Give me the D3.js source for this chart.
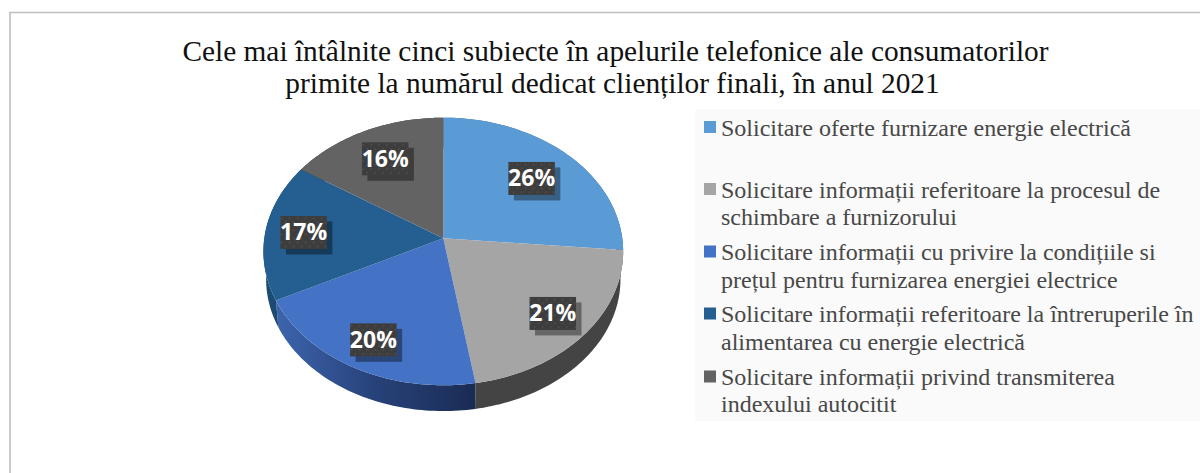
<!DOCTYPE html>
<html>
<head>
    <meta charset="utf-8" />
    <title>Subiecte apeluri telefonice 2021</title>
    <script src="https://d3js.org/d3.v7.min.js"></script>
    <style>
        html, body { margin: 0; padding: 0; background: #fff; overflow: hidden; }
        svg { display: block; }
        text { white-space: pre; }
        .title { font: 29.35px "Liberation Serif", serif; fill: #111; text-anchor: middle; }
        .legend-text { font: 24px "Liberation Serif", serif; fill: #484848; }
        .pct { font: 700 23px "Open Sans", sans-serif; fill: #fff; text-anchor: middle; }
    </style>
</head>
<body>
    <div id="chart"></div>
    <script>
        // Slice shares, labels show them rounded
        const shares = [26.4, 21, 20.2, 16.6, 15.8];
        const topColors = ["#5b9bd5", "#a5a5a5", "#4472c4", "#255e91", "#636363"];
        const wallColors = ["#37608a", "#444444", "url(#blueWall)", "#1b4a73", "#3c3c3c"];
        const titleLines = [
            "Cele mai întâlnite cinci subiecte în apelurile telefonice ale consumatorilor",
            "primite la numărul dedicat clienților finali, în anul 2021"
        ];
        const titleX = [615.5, 612.5];
        const legendLines = [
            ["Solicitare oferte furnizare energie electrică"],
            ["Solicitare informații referitoare la procesul de", "schimbare a furnizorului"],
            ["Solicitare informații cu privire la condițiile si", "prețul pentru furnizarea energiei electrice"],
            ["Solicitare informații referitoare la întreruperile în", "alimentarea cu energie electrică"],
            ["Solicitare informații privind transmiterea", "indexului autocitit"]
        ];
        const legendBaselines = [[135.5], [197.5, 225], [260, 287.5], [322, 350], [385, 412]];
        const labelRadius = [0.70, 0.79, 0.80, 0.785, 0.725];

        const width = 1200;
        const height = 473;

        const svg = d3.select("#chart").append("svg")
            .attr("width", width)
            .attr("height", height);

        const defs = svg.append("defs");

        const wallGrad = defs.append("linearGradient")
            .attr("id", "blueWall")
            .attr("gradientUnits", "userSpaceOnUse")
            .attr("x1", 276).attr("x2", 474).attr("y1", 0).attr("y2", 0);
        wallGrad.append("stop").attr("offset", 0).attr("stop-color", "#3d64ad");
        wallGrad.append("stop").attr("offset", 0.5).attr("stop-color", "#27427a");
        wallGrad.append("stop").attr("offset", 1).attr("stop-color", "#1a2c54");

        // dotted texture of the label boxes
        const dots = defs.append("pattern")
            .attr("id", "boxDots")
            .attr("patternUnits", "userSpaceOnUse")
            .attr("width", 8).attr("height", 8);
        dots.append("rect").attr("width", 8).attr("height", 8).attr("fill", "#3d3d3d");
        dots.append("circle").attr("cx", 2).attr("cy", 2).attr("r", 1.1).attr("fill", "#4c4c4c");
        dots.append("circle").attr("cx", 6).attr("cy", 6).attr("r", 1.1).attr("fill", "#4c4c4c");

        // frame, only top and left are inside the picture
        svg.append("path")
            .attr("d", d3.line()([[10, height], [10, 12.5], [width, 12.5]]))
            .attr("fill", "none")
            .attr("stroke", "#bfbfbf")
            .attr("stroke-width", 1.6);

        svg.selectAll(".title")
            .data(titleLines)
            .enter().append("text")
            .attr("class", "title")
            .attr("x", (d, i) => titleX[i])
            .attr("y", (d, i) => 60.5 + i * 32)
            .text(d => d);

        // legend
        svg.append("rect")
            .attr("x", 695).attr("y", 109)
            .attr("width", 505).attr("height", 312)
            .attr("fill", "#fafafa");

        const legend = svg.selectAll(".legend-item")
            .data(legendLines)
            .enter().append("g")
            .attr("class", "legend-item");

        legend.append("rect")
            .attr("x", 704)
            .attr("y", (d, i) => legendBaselines[i][0] - 14.5)
            .attr("width", 12).attr("height", 12)
            .attr("fill", (d, i) => topColors[i]);

        legend.each(function(lines, i) {
            d3.select(this).selectAll("text")
                .data(lines)
                .enter().append("text")
                .attr("class", "legend-text")
                .attr("x", 721)
                .attr("y", (d, j) => legendBaselines[i][j])
                .text(d => d);
        });

        // perspective pie: circle of unit radius tilted towards the viewer
        const cx = 443.3, cy = 238.3;
        const rX = 179, rY = 132.5, tilt = 0.0984;
        const depth = 26;

        function project(angle, r, drop) {
            const s = Math.sin(angle) * r;
            const c = Math.cos(angle) * r;
            const w = 1 + tilt * c;
            const shrink = drop ? 0.985 : 1;
            return [cx + rX * shrink * s / w, cy - rY * shrink * c / w + (drop ? drop + 2 : 0)];
        }

        const pie = d3.pie().sort(null);
        const slices = pie(shares);

        function arcPoints(d, drop) {
            const n = 60;
            return d3.range(n + 1).map(i => {
                const a = d.startAngle + (d.endAngle - d.startAngle) * i / n;
                return project(a, 1, drop);
            });
        }

        const line = d3.line();

        svg.append("g").selectAll("path")
            .data(slices)
            .enter().append("path")
            .attr("d", d => line(arcPoints(d, 0).concat(arcPoints(d, depth).reverse())) + "Z")
            .attr("fill", (d, i) => wallColors[i]);

        svg.append("g").selectAll("path")
            .data(slices)
            .enter().append("path")
            .attr("d", d => line([[cx, cy]].concat(arcPoints(d, 0))) + "Z")
            .attr("fill", (d, i) => topColors[i]);

        // percentage labels
        const boxW = 46.5, boxH = 33;
        const labels = svg.append("g").selectAll("g")
            .data(slices)
            .enter().append("g")
            .attr("transform", (d, i) => {
                const mid = (d.startAngle + d.endAngle) / 2;
                return "translate(" + project(mid, labelRadius[i], 0) + ")";
            });

        labels.append("rect")
            .attr("x", -boxW / 2 + 5.5).attr("y", -boxH / 2 + 5.5)
            .attr("width", boxW).attr("height", boxH)
            .attr("fill", "#000").attr("fill-opacity", 0.38);

        labels.append("rect")
            .attr("x", -boxW / 2).attr("y", -boxH / 2)
            .attr("width", boxW).attr("height", boxH)
            .attr("fill", "url(#boxDots)");

        labels.append("text")
            .attr("class", "pct")
            .attr("y", 8)
            .text(d => Math.round(d.data) + "%");
    </script>
</body>
</html>
